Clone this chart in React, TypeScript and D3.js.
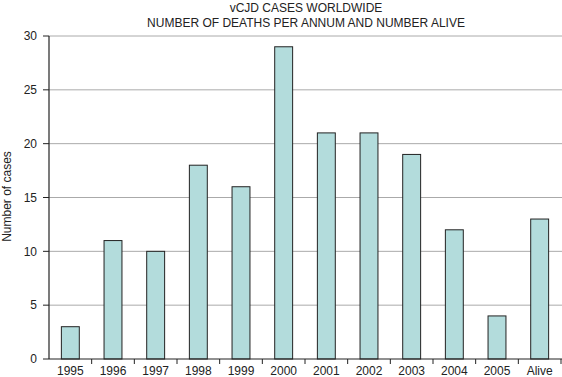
import React from "react";
import * as d3 from "d3";

const categories = ["1995", "1996", "1997", "1998", "1999", "2000", "2001", "2002", "2003", "2004", "2005", "Alive"];
const values = [3, 11, 10, 18, 16, 29, 21, 21, 19, 12, 4, 13];
const yTicks = [0, 5, 10, 15, 20, 25, 30];
const titleLines = ["vCJD CASES WORLDWIDE", "NUMBER OF DEATHS PER ANNUM AND NUMBER ALIVE"];
const yLabel = "Number of cases";

export default function App() {
  const W = 562, H = 377;
  const left = 49, right = 561, top = 36, bottom = 359;
  const x = d3.scaleBand<string>().domain(categories).range([left, right]).paddingInner(0.58).paddingOuter(0.29);
  const xb = d3.scaleBand<string>().domain(categories).range([left, right]);
  const y = d3.scaleLinear().domain([0, 30]).range([bottom, top]);
  const font = "Liberation Sans, Arial, Helvetica, sans-serif";
  return (
    <svg width={W} height={H} style={{ position: "absolute", left: 0, top: 0, background: "#fff" }} fontFamily={font}>
      {titleLines.map((t, i) => (
        <text key={t} x={306} y={12 + i * 14.5} textAnchor="middle" fontSize={12} fill="#222">{t}</text>
      ))}
      {yTicks.filter(v => v > 0).map(v => (
        <line key={"g" + v} x1={left} x2={W} y1={y(v)} y2={y(v)} stroke="#aaa" strokeWidth={1} />
      ))}
      {categories.map((c, i) => (
        <rect key={c} x={x(c)!} y={y(values[i])} width={x.bandwidth()} height={y(0) - y(values[i])}
          fill="#b3dcdc" stroke="#222" strokeWidth={1} />
      ))}
      <line x1={left} x2={left} y1={top} y2={bottom} stroke="#222" strokeWidth={1.2} />
      <line x1={left} x2={W} y1={bottom} y2={bottom} stroke="#222" strokeWidth={1.2} />
      {yTicks.map(v => (
        <g key={"t" + v}>
          <line x1={left - 6} x2={left} y1={y(v)} y2={y(v)} stroke="#222" strokeWidth={1} />
          <text x={left - 12} y={y(v)} dy="0.35em" textAnchor="end" fontSize={12} fill="#222">{v}</text>
        </g>
      ))}
      {categories.map((c, i) => (
        <g key={"x" + c}>
          <line x1={xb(c)! + xb.bandwidth()} x2={xb(c)! + xb.bandwidth()} y1={bottom} y2={bottom + 5} stroke="#222" strokeWidth={1} />
          <text x={xb(c)! + xb.bandwidth() / 2} y={bottom + 16} textAnchor="middle" fontSize={12} fill="#222">{c}</text>
        </g>
      ))}
      <text transform={`translate(11,${(top + bottom) / 2 - 1}) rotate(-90)`} textAnchor="middle" fontSize={12} fill="#222">{yLabel}</text>
    </svg>
  );
}
